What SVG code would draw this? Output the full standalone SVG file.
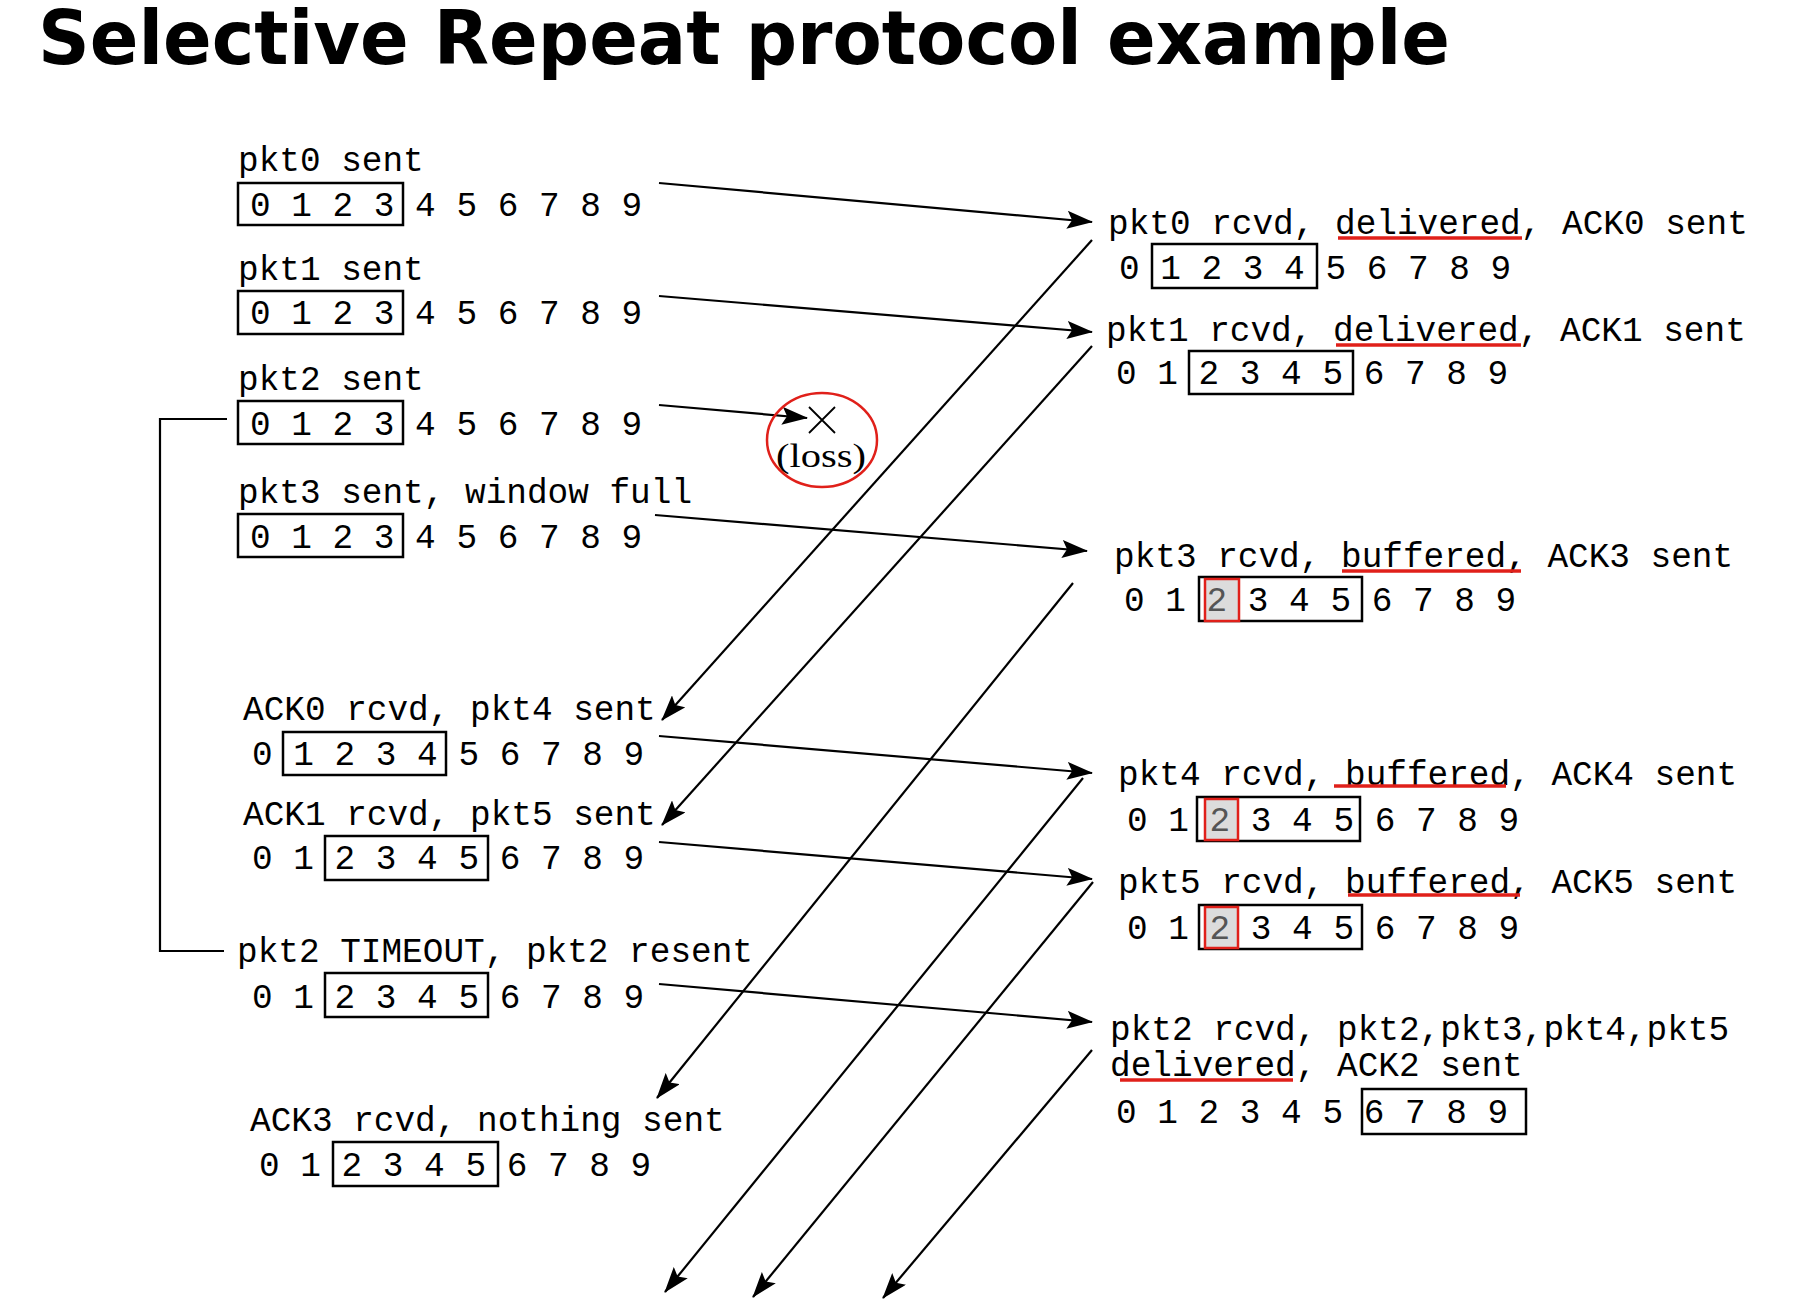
<svg xmlns="http://www.w3.org/2000/svg" width="1798" height="1307" viewBox="0 0 1798 1307">
<style>
.t{font-family:"Liberation Mono","DejaVu Sans Mono",monospace;font-size:34.4px;fill:#000}
.box{fill:none;stroke:#000;stroke-width:2.5}
.hl{fill:#dcdcdc;stroke:#e0201a;stroke-width:2.5}
.g2{fill:#555}
.ul{stroke:#e0201a;stroke-width:3.5;fill:none}
.c{stroke:#000;stroke-width:2.2;fill:none}
.title{font-family:"DejaVu Sans",Verdana,sans-serif;font-weight:bold;font-size:75px;fill:#000}
</style>
<defs>
<marker id="ah" markerUnits="userSpaceOnUse" viewBox="0 0 26 18" refX="25" refY="9" markerWidth="26" markerHeight="18" orient="auto"><path d="M0,0 L26,9 L0,18 L5,9 z" fill="#000"/></marker>
</defs>
<rect width="1798" height="1307" fill="#fff"/>
<text class="title" x="38" y="64" textLength="1412" lengthAdjust="spacingAndGlyphs">Selective Repeat protocol example</text>

<g id="connectors">
<path class="c" d="M227,419 H160 V951 H224"/>
<line class="c" x1="659" y1="183" x2="1092" y2="222" marker-end="url(#ah)"/>
<line class="c" x1="659" y1="296" x2="1092" y2="332" marker-end="url(#ah)"/>
<line class="c" x1="659" y1="405" x2="807" y2="418" marker-end="url(#ah)"/>
<line class="c" x1="655" y1="515" x2="1087" y2="551" marker-end="url(#ah)"/>
<line class="c" x1="659" y1="736" x2="1092" y2="773" marker-end="url(#ah)"/>
<line class="c" x1="659" y1="842" x2="1092" y2="879" marker-end="url(#ah)"/>
<line class="c" x1="659" y1="984" x2="1092" y2="1022" marker-end="url(#ah)"/>
<line class="c" x1="1092" y1="240" x2="662" y2="720" marker-end="url(#ah)"/>
<line class="c" x1="1092" y1="346" x2="662" y2="825" marker-end="url(#ah)"/>
<line class="c" x1="1073" y1="583" x2="657" y2="1098" marker-end="url(#ah)"/>
<line class="c" x1="1083" y1="778" x2="665" y2="1292" marker-end="url(#ah)"/>
<line class="c" x1="1093" y1="882" x2="753" y2="1297" marker-end="url(#ah)"/>
<line class="c" x1="1092" y1="1050" x2="883" y2="1298" marker-end="url(#ah)"/>
</g>

<g id="loss">
<ellipse cx="822" cy="440" rx="55" ry="47" fill="none" stroke="#e0201a" stroke-width="2.5"/>
<path d="M809,407 L835,433 M835,407 L809,433" stroke="#000" stroke-width="1.8" fill="none"/>
<text x="776" y="467" textLength="90" lengthAdjust="spacingAndGlyphs" style="font-family:'Liberation Serif',serif;font-size:34px">(loss)</text>
</g>

<g id="s-pkt0">
<text class="t" x="238" y="171">pkt0 sent</text>
<rect class="box" x="238" y="183" width="165" height="42"/>
<text class="t" x="250" y="216">0 1 2 3 4 5 6 7 8 9</text>
</g>
<g id="s-pkt1">
<text class="t" x="238" y="280">pkt1 sent</text>
<rect class="box" x="238" y="291" width="165" height="43"/>
<text class="t" x="250" y="324">0 1 2 3 4 5 6 7 8 9</text>
</g>
<g id="s-pkt2">
<text class="t" x="238" y="390">pkt2 sent</text>
<rect class="box" x="238" y="401" width="165" height="43"/>
<text class="t" x="250" y="435">0 1 2 3 4 5 6 7 8 9</text>
</g>
<g id="s-pkt3">
<text class="t" x="238" y="503">pkt3 sent, window full</text>
<rect class="box" x="238" y="514" width="165" height="43"/>
<text class="t" x="250" y="548">0 1 2 3 4 5 6 7 8 9</text>
</g>
<g id="s-ack0">
<text class="t" x="243" y="720">ACK0 rcvd, pkt4 sent</text>
<rect class="box" x="283" y="732" width="163" height="43"/>
<text class="t" x="252" y="765">0 1 2 3 4 5 6 7 8 9</text>
</g>
<g id="s-ack1">
<text class="t" x="243" y="825">ACK1 rcvd, pkt5 sent</text>
<rect class="box" x="325" y="836" width="163" height="44"/>
<text class="t" x="252" y="869">0 1 2 3 4 5 6 7 8 9</text>
</g>
<g id="s-timeout">
<text class="t" x="237" y="962">pkt2 TIMEOUT, pkt2 resent</text>
<rect class="box" x="325" y="973" width="163" height="44"/>
<text class="t" x="252" y="1008">0 1 2 3 4 5 6 7 8 9</text>
</g>
<g id="s-ack3">
<text class="t" x="250" y="1131">ACK3 rcvd, nothing sent</text>
<rect class="box" x="333" y="1142" width="165" height="44"/>
<text class="t" x="259" y="1176">0 1 2 3 4 5 6 7 8 9</text>
</g>

<g id="r-pkt0">
<text class="t" x="1108" y="234">pkt0 rcvd, delivered, ACK0 sent</text>
<line class="ul" x1="1338" y1="238" x2="1522" y2="238"/>
<rect class="box" x="1152" y="244" width="165" height="44"/>
<text class="t" x="1119" y="279">0 1 2 3 4 5 6 7 8 9</text>
</g>
<g id="r-pkt1">
<text class="t" x="1106" y="341">pkt1 rcvd, delivered, ACK1 sent</text>
<line class="ul" x1="1336" y1="345" x2="1521" y2="345"/>
<rect class="box" x="1189" y="351" width="164" height="43"/>
<text class="t" x="1116" y="384">0 1 2 3 4 5 6 7 8 9</text>
</g>
<g id="r-pkt3">
<text class="t" x="1114" y="567">pkt3 rcvd, buffered, ACK3 sent</text>
<line class="ul" x1="1342" y1="571" x2="1521" y2="571"/>
<rect class="box" x="1199" y="577" width="163" height="44"/>
<rect class="hl" x="1205" y="579" width="34" height="42"/>
<text class="t" x="1124" y="611">0 1 <tspan class="g2">2</tspan> 3 4 5 6 7 8 9</text>
</g>
<g id="r-pkt4">
<text class="t" x="1118" y="785">pkt4 rcvd, buffered, ACK4 sent</text>
<line class="ul" x1="1334" y1="786" x2="1506" y2="786"/>
<rect class="box" x="1197" y="797" width="163" height="44"/>
<rect class="hl" x="1205" y="799" width="33" height="41"/>
<text class="t" x="1127" y="831">0 1 <tspan class="g2">2</tspan> 3 4 5 6 7 8 9</text>
</g>
<g id="r-pkt5">
<text class="t" x="1118" y="893">pkt5 rcvd, buffered, ACK5 sent</text>
<line class="ul" x1="1348" y1="895" x2="1520" y2="895"/>
<rect class="box" x="1199" y="905" width="163" height="44"/>
<rect class="hl" x="1205" y="907" width="33" height="41"/>
<text class="t" x="1127" y="939">0 1 <tspan class="g2">2</tspan> 3 4 5 6 7 8 9</text>
</g>
<g id="r-pkt2">
<text class="t" x="1110" y="1040">pkt2 rcvd, pkt2,pkt3,pkt4,pkt5</text>
<text class="t" x="1110" y="1076">delivered, ACK2 sent</text>
<line class="ul" x1="1120" y1="1080" x2="1293" y2="1080"/>
<rect class="box" x="1362" y="1089" width="164" height="45"/>
<text class="t" x="1116" y="1123">0 1 2 3 4 5 6 7 8 9</text>
</g>
</svg>
